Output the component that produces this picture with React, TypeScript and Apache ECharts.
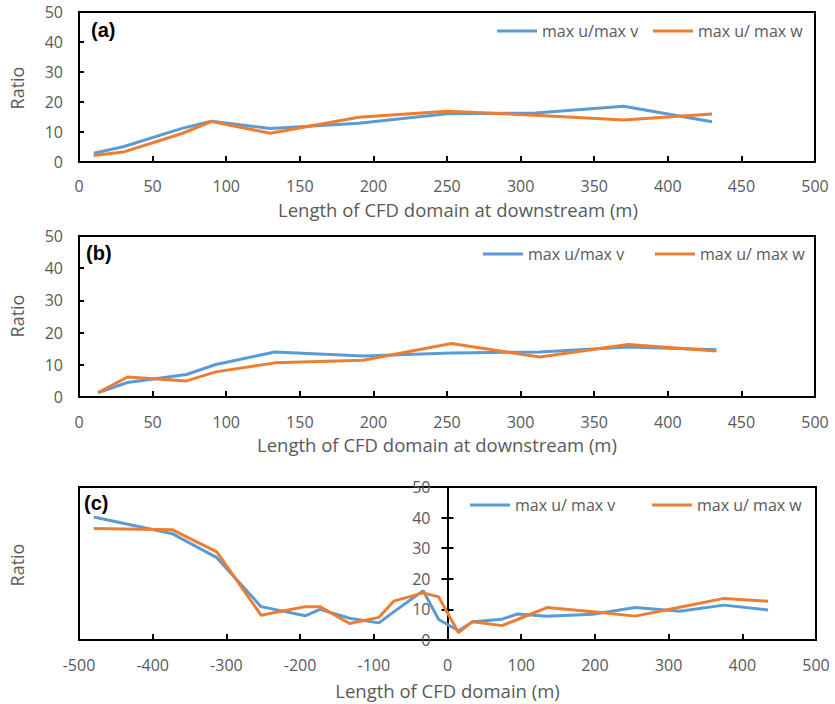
import React, { useEffect, useRef } from "react";
import * as echarts from "echarts";

const aX = [10, 30, 70, 90, 130, 190, 250, 310, 370, 430];
const aV = [2.9, 5.1, 11.2, 13.6, 11.2, 12.9, 16.1, 16.3, 18.6, 13.4];
const aW = [2.2, 3.3, 9.5, 13.5, 9.6, 14.9, 16.9, 15.6, 14.0, 16.0];

const bX = [13, 33, 73, 93, 133, 193, 253, 313, 373, 433];
const bV = [1.4, 4.5, 7.0, 10.1, 14.0, 12.7, 13.7, 14.0, 15.5, 14.7];
const bW = [1.4, 6.2, 5.0, 7.8, 10.6, 11.4, 16.6, 12.4, 16.3, 14.3];

const cX = [-480, -373, -313, -253, -193, -173, -133, -93, -73, -33, -12, 15, 34, 74, 95, 135, 197, 255, 315, 375, 435];
const cV = [40.2, 34.7, 26.9, 10.9, 7.9, 10.0, 7.1, 5.6, 9.2, 16.1, 6.7, 3.0, 6.0, 6.8, 8.5, 7.8, 8.4, 10.6, 9.4, 11.4, 9.8];
const cW = [36.4, 36.0, 28.8, 8.1, 10.9, 10.9, 5.4, 7.4, 12.7, 15.4, 14.1, 2.4, 6.0, 4.7, 6.7, 10.6, 9.2, 7.8, 10.7, 13.6, 12.7];

const nameV1 = "max u/max v";
const nameW1 = "max u/ max w";
const nameV3 = "max u/ max v";
const nameW3 = "max u/ max w ";

const titleAB = "Length of CFD domain at downstream (m)";
const titleC = "Length of CFD domain (m)";
const yTitle = "Ratio";

const BLUE = "#5B9BD5";
const ORANGE = "#ED7D31";
const GRAY = "#595959";
const FONT = "'Open Sans'";

const zip = (xs: number[], ys: number[]) => xs.map((x, i) => [x, ys[i]]);

export default function App() {
  const ref = useRef<HTMLDivElement>(null);
  useEffect(() => {
    if (!ref.current) return;
    const chart = echarts.init(ref.current, null, { renderer: "svg" });

    const labelStyle = { color: GRAY, fontFamily: FONT, fontSize: 16, lineHeight: 16 };
    const gridC = { left: 79, top: 487, width: 737, height: 153 };
    const grids = [
      { left: 79, top: 12, width: 736, height: 150 },
      { left: 79, top: 236, width: 736, height: 161 },
      gridC,
    ].map((g) => ({ ...g, show: true, borderColor: "#000", borderWidth: 2, backgroundColor: "transparent" }));
    // offset that brings the y axis of panel (c) onto x = 0 (middle of the -500..500 range)
    const midOffset = -gridC.width / 2;

    const xBase = (gi: number, min: number, max: number, interval: number, name: string, gap: number, pad: number[], margin: number) => ({
      type: "value",
      gridIndex: gi,
      min,
      max,
      interval,
      name,
      nameLocation: "middle",
      nameGap: gap,
      nameTextStyle: { color: GRAY, fontFamily: FONT, fontSize: 18.5, lineHeight: 19, padding: pad },
      axisLine: { show: true, onZero: false, lineStyle: { color: "#000", width: 2 } },
      axisTick: { show: true, inside: true, length: 6, lineStyle: { color: "#000", width: 2 } },
      axisLabel: { ...labelStyle, margin },
      splitLine: { show: false },
    });

    const yBase = (gi: number) => ({
      type: "value",
      gridIndex: gi,
      min: 0,
      max: 50,
      interval: 10,
      axisLine: { show: true, onZero: false, lineStyle: { color: "#000", width: 2 } },
      axisTick: { show: true, inside: true, length: 5, lineStyle: { color: "#000", width: 2 } },
      axisLabel: { ...labelStyle, margin: 16 },
      splitLine: { show: false },
    });

    const yC = {
      ...yBase(2),
      position: "left",
      offset: midOffset,
      axisTick: { show: true, inside: false, length: 6, lineStyle: { color: "#000", width: 2 } },
      axisLabel: { ...labelStyle, margin: 17 },
    };
    const yC2 = {
      type: "value",
      gridIndex: 2,
      position: "right",
      offset: midOffset,
      min: 0,
      max: 50,
      interval: 10,
      axisLine: { show: false },
      axisTick: { show: true, inside: false, length: 6, lineStyle: { color: "#000", width: 2 } },
      axisLabel: { show: false },
      splitLine: { show: false },
    };

    const line = (name: string, color: string, data: number[][], xi: number, yi: number) => ({
      type: "line",
      name,
      xAxisIndex: xi,
      yAxisIndex: yi,
      data,
      symbol: "none",
      showSymbol: false,
      lineStyle: { color, width: 3 },
      itemStyle: { color },
      z: 3,
    });

    const leg = (name: string, left: number, top: number) => ({
      data: [name],
      left,
      top,
      icon: "rect",
      itemWidth: 40,
      itemHeight: 3,
      itemGap: 0,
      padding: 0,
      textStyle: { color: GRAY, fontFamily: FONT, fontSize: 16, padding: [0, 0, 0, 0] },
      selectedMode: false,
    });

    const panelLabel = (text: string, x: number, y: number) => ({
      type: "text",
      x,
      y,
      style: { text, fill: "#000", font: "bold 20px 'Liberation Sans', Arial, sans-serif", textVerticalAlign: "middle" },
    });
    const ratio = (y: number) => ({
      type: "text",
      x: 17,
      y,
      rotation: Math.PI / 2,
      style: { text: yTitle, fill: GRAY, font: `18px ${FONT}`, textAlign: "center", textVerticalAlign: "middle" },
    });

    chart.setOption({
      animation: false,
      backgroundColor: "#fff",
      grid: grids,
      xAxis: [
        xBase(0, 0, 500, 50, titleAB, 38, [0, 0, 0, 22], 16),
        xBase(1, 0, 500, 50, titleAB, 38, [0, 20, 0, 0], 17),
        xBase(2, -500, 500, 100, titleC, 41, [0, 0, 0, 0], 17),
      ],
      yAxis: [yBase(0), yBase(1), yC, yC2],
      legend: [
        leg(nameV1, 497, 23),
        leg(nameW1, 653, 23),
        leg(nameV1, 483, 246),
        leg(nameW1, 655, 246),
        leg(nameV3, 470, 497),
        leg(nameW3, 652, 497),
      ],
      graphic: [
        panelLabel("(a)", 91, 30),
        panelLabel("(b)", 86, 253),
        panelLabel("(c)", 84, 503),
        ratio(88),
        ratio(316),
        ratio(565),
      ],
      series: [
        line(nameV1, BLUE, zip(aX, aV), 0, 0),
        line(nameW1, ORANGE, zip(aX, aW), 0, 0),
        line(nameV1, BLUE, zip(bX, bV), 1, 1),
        line(nameW1, ORANGE, zip(bX, bW), 1, 1),
        line(nameV3, BLUE, zip(cX, cV), 2, 2),
        line(nameW3, ORANGE, zip(cX, cW), 2, 2),
      ],
    });
    return () => chart.dispose();
  }, []);
  return <div ref={ref} style={{ position: "fixed", left: 0, top: 0, width: 835, height: 704 }} />;
}
